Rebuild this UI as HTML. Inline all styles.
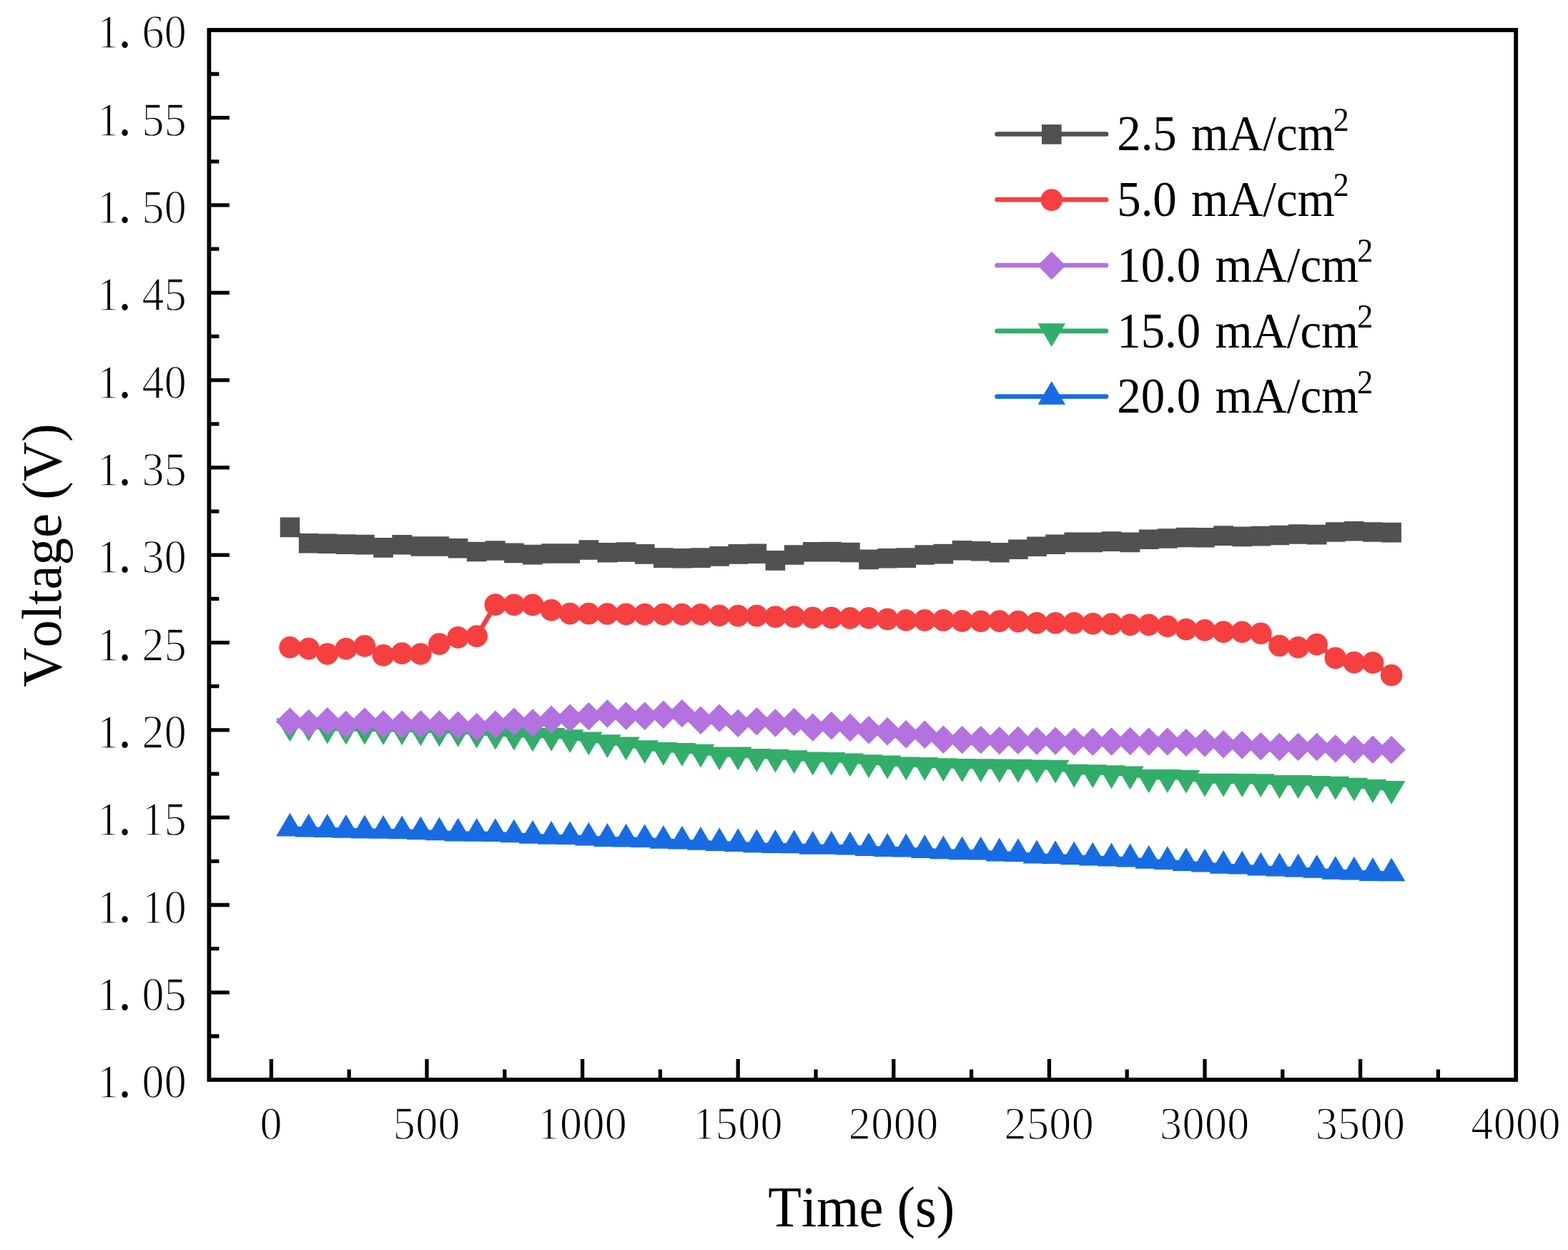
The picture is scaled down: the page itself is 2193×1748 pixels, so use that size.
<!DOCTYPE html>
<html lang="en">
<head>
<meta charset="utf-8">
<title>Voltage vs Time at different current densities</title>
<style>
html,body{margin:0;padding:0;background:#fff;}
body{width:2193px;height:1748px;overflow:hidden;}
svg{display:block;}
text{font-family:"Liberation Serif","Noto Serif CJK SC",serif;fill:#000;font-kerning:none;}
.tick text{text-anchor:middle;}
.tick .dot{font-size:72px;stroke:none;}
</style>
</head>
<body>
<svg width="2193" height="1748" viewBox="0 0 2193 1748">
<rect x="0" y="0" width="2193" height="1748" fill="#fff"/>
<g class="series s-blue">
<polyline points="405.5,1158.8 431.7,1159.7 457.8,1160.1 483.9,1161 510,1161.6 536.1,1162 562.2,1162.5 588.3,1163.4 614.4,1164.4 640.6,1165.7 666.7,1165.9 692.8,1166.2 718.9,1167.5 745,1169 771.1,1170 797.2,1170.3 823.3,1171.8 849.4,1173.1 875.6,1173.7 901.7,1174.2 927.8,1175.9 953.9,1176.8 980,1178 1006.1,1179.3 1032.2,1180.2 1058.3,1181.5 1084.4,1182.1 1110.6,1182.4 1136.7,1183.9 1162.8,1183.9 1188.9,1184.8 1215,1186.2 1241.1,1187.1 1267.2,1187.6 1293.3,1189.1 1319.4,1190.4 1345.6,1191.4 1371.7,1191.7 1397.8,1193.6 1423.9,1194.2 1450,1196.6 1476.1,1197.3 1502.2,1198.4 1528.3,1199.7 1554.5,1200.6 1580.6,1201.6 1606.7,1204 1632.8,1205.3 1658.9,1207.2 1685,1208.7 1711.1,1210.9 1737.2,1211.8 1763.3,1213.7 1789.5,1214.6 1815.6,1215.6 1841.7,1217 1867.8,1218.9 1893.9,1219.7 1920,1221.1 1946.1,1221.5" fill="none" stroke="#186CE3" stroke-width="6.7" stroke-linejoin="round" stroke-linecap="round"/>
<path d="M405.5 1136.8l19.3 32.8h-38.6zM431.7 1137.7l19.3 32.8h-38.6zM457.8 1138.1l19.3 32.8h-38.6zM483.9 1139l19.3 32.8h-38.6zM510 1139.6l19.3 32.8h-38.6zM536.1 1140l19.3 32.8h-38.6zM562.2 1140.5l19.3 32.8h-38.6zM588.3 1141.4l19.3 32.8h-38.6zM614.4 1142.4l19.3 32.8h-38.6zM640.6 1143.7l19.3 32.8h-38.6zM666.7 1143.9l19.3 32.8h-38.6zM692.8 1144.2l19.3 32.8h-38.6zM718.9 1145.5l19.3 32.8h-38.6zM745 1147l19.3 32.8h-38.6zM771.1 1148l19.3 32.8h-38.6zM797.2 1148.3l19.3 32.8h-38.6zM823.3 1149.8l19.3 32.8h-38.6zM849.4 1151.1l19.3 32.8h-38.6zM875.6 1151.7l19.3 32.8h-38.6zM901.7 1152.2l19.3 32.8h-38.6zM927.8 1153.9l19.3 32.8h-38.6zM953.9 1154.8l19.3 32.8h-38.6zM980 1156l19.3 32.8h-38.6zM1006.1 1157.3l19.3 32.8h-38.6zM1032.2 1158.2l19.3 32.8h-38.6zM1058.3 1159.5l19.3 32.8h-38.6zM1084.4 1160.1l19.3 32.8h-38.6zM1110.6 1160.4l19.3 32.8h-38.6zM1136.7 1161.9l19.3 32.8h-38.6zM1162.8 1161.9l19.3 32.8h-38.6zM1188.9 1162.8l19.3 32.8h-38.6zM1215 1164.2l19.3 32.8h-38.6zM1241.1 1165.1l19.3 32.8h-38.6zM1267.2 1165.6l19.3 32.8h-38.6zM1293.3 1167.1l19.3 32.8h-38.6zM1319.4 1168.4l19.3 32.8h-38.6zM1345.6 1169.4l19.3 32.8h-38.6zM1371.7 1169.7l19.3 32.8h-38.6zM1397.8 1171.6l19.3 32.8h-38.6zM1423.9 1172.2l19.3 32.8h-38.6zM1450 1174.6l19.3 32.8h-38.6zM1476.1 1175.3l19.3 32.8h-38.6zM1502.2 1176.4l19.3 32.8h-38.6zM1528.3 1177.7l19.3 32.8h-38.6zM1554.5 1178.6l19.3 32.8h-38.6zM1580.6 1179.6l19.3 32.8h-38.6zM1606.7 1182l19.3 32.8h-38.6zM1632.8 1183.3l19.3 32.8h-38.6zM1658.9 1185.2l19.3 32.8h-38.6zM1685 1186.7l19.3 32.8h-38.6zM1711.1 1188.9l19.3 32.8h-38.6zM1737.2 1189.8l19.3 32.8h-38.6zM1763.3 1191.7l19.3 32.8h-38.6zM1789.5 1192.6l19.3 32.8h-38.6zM1815.6 1193.6l19.3 32.8h-38.6zM1841.7 1195l19.3 32.8h-38.6zM1867.8 1196.9l19.3 32.8h-38.6zM1893.9 1197.7l19.3 32.8h-38.6zM1920 1199.1l19.3 32.8h-38.6zM1946.1 1199.5l19.3 32.8h-38.6z" fill="#186CE3"/>
</g>
<g class="series s-green">
<polyline points="405.5,1015.3 431.7,1014.7 457.8,1018.4 483.9,1019.4 510,1019.4 536.1,1019.9 562.2,1020.3 588.3,1021.2 614.4,1022.2 640.6,1022.7 666.7,1024.6 692.8,1026.4 718.9,1027.4 745,1029.2 771.1,1028.7 797.2,1031.1 823.3,1034.3 849.4,1038 875.6,1041.3 901.7,1046 927.8,1048.8 953.9,1049.7 980,1051.6 1006.1,1055.3 1032.2,1055.3 1058.3,1057.7 1084.4,1058.5 1110.6,1060 1136.7,1062.4 1162.8,1062.7 1188.9,1064.2 1215,1066.1 1241.1,1067.4 1267.2,1069.3 1293.3,1069.8 1319.4,1071.1 1345.6,1071.7 1371.7,1072.1 1397.8,1072.4 1423.9,1072.6 1450,1073.4 1476.1,1073.5 1502.2,1079.5 1528.3,1080.1 1554.5,1081 1580.6,1082.3 1606.7,1086.9 1632.8,1086.9 1658.9,1087.5 1685,1092.5 1711.1,1092.5 1737.2,1092.9 1763.3,1093.1 1789.5,1094.9 1815.6,1094.9 1841.7,1095.9 1867.8,1096.6 1893.9,1098.5 1920,1100.9 1946.1,1102.8" fill="none" stroke="#31AE6A" stroke-width="6.7" stroke-linejoin="round" stroke-linecap="round"/>
<path d="M405.5 1037.3l19.3 -32.8h-38.6zM431.7 1036.7l19.3 -32.8h-38.6zM457.8 1040.4l19.3 -32.8h-38.6zM483.9 1041.4l19.3 -32.8h-38.6zM510 1041.4l19.3 -32.8h-38.6zM536.1 1041.9l19.3 -32.8h-38.6zM562.2 1042.3l19.3 -32.8h-38.6zM588.3 1043.2l19.3 -32.8h-38.6zM614.4 1044.2l19.3 -32.8h-38.6zM640.6 1044.7l19.3 -32.8h-38.6zM666.7 1046.6l19.3 -32.8h-38.6zM692.8 1048.4l19.3 -32.8h-38.6zM718.9 1049.4l19.3 -32.8h-38.6zM745 1051.2l19.3 -32.8h-38.6zM771.1 1050.7l19.3 -32.8h-38.6zM797.2 1053.1l19.3 -32.8h-38.6zM823.3 1056.3l19.3 -32.8h-38.6zM849.4 1060l19.3 -32.8h-38.6zM875.6 1063.3l19.3 -32.8h-38.6zM901.7 1068l19.3 -32.8h-38.6zM927.8 1070.8l19.3 -32.8h-38.6zM953.9 1071.7l19.3 -32.8h-38.6zM980 1073.6l19.3 -32.8h-38.6zM1006.1 1077.3l19.3 -32.8h-38.6zM1032.2 1077.3l19.3 -32.8h-38.6zM1058.3 1079.7l19.3 -32.8h-38.6zM1084.4 1080.5l19.3 -32.8h-38.6zM1110.6 1082l19.3 -32.8h-38.6zM1136.7 1084.4l19.3 -32.8h-38.6zM1162.8 1084.7l19.3 -32.8h-38.6zM1188.9 1086.2l19.3 -32.8h-38.6zM1215 1088.1l19.3 -32.8h-38.6zM1241.1 1089.4l19.3 -32.8h-38.6zM1267.2 1091.3l19.3 -32.8h-38.6zM1293.3 1091.8l19.3 -32.8h-38.6zM1319.4 1093.1l19.3 -32.8h-38.6zM1345.6 1093.7l19.3 -32.8h-38.6zM1371.7 1094.1l19.3 -32.8h-38.6zM1397.8 1094.4l19.3 -32.8h-38.6zM1423.9 1094.6l19.3 -32.8h-38.6zM1450 1095.4l19.3 -32.8h-38.6zM1476.1 1095.5l19.3 -32.8h-38.6zM1502.2 1101.5l19.3 -32.8h-38.6zM1528.3 1102.1l19.3 -32.8h-38.6zM1554.5 1103l19.3 -32.8h-38.6zM1580.6 1104.3l19.3 -32.8h-38.6zM1606.7 1108.9l19.3 -32.8h-38.6zM1632.8 1108.9l19.3 -32.8h-38.6zM1658.9 1109.5l19.3 -32.8h-38.6zM1685 1114.5l19.3 -32.8h-38.6zM1711.1 1114.5l19.3 -32.8h-38.6zM1737.2 1114.9l19.3 -32.8h-38.6zM1763.3 1115.1l19.3 -32.8h-38.6zM1789.5 1116.9l19.3 -32.8h-38.6zM1815.6 1116.9l19.3 -32.8h-38.6zM1841.7 1117.9l19.3 -32.8h-38.6zM1867.8 1118.6l19.3 -32.8h-38.6zM1893.9 1120.5l19.3 -32.8h-38.6zM1920 1122.9l19.3 -32.8h-38.6zM1946.1 1124.8l19.3 -32.8h-38.6z" fill="#31AE6A"/>
</g>
<g class="series s-purple">
<polyline points="405.5,1009.1 431.7,1011.6 457.8,1008.8 483.9,1013.4 510,1009.1 536.1,1012.9 562.2,1013.2 588.3,1012.9 614.4,1012.9 640.6,1014.2 666.7,1016.6 692.8,1013.2 718.9,1009.1 745,1011 771.1,1006.3 797.2,1004.1 823.3,1001.7 849.4,998 875.6,1001.3 901.7,1001.3 927.8,999.3 953.9,997.6 980,1007.3 1006.1,1004.1 1032.2,1011.4 1058.3,1008.8 1084.4,1011 1110.6,1009.5 1136.7,1017.1 1162.8,1014.7 1188.9,1017.5 1215,1020.7 1241.1,1022.7 1267.2,1026.8 1293.3,1027.2 1319.4,1034.3 1345.6,1034.6 1371.7,1034.6 1397.8,1035.6 1423.9,1035.2 1450,1036.1 1476.1,1036.1 1502.2,1037.1 1528.3,1037.4 1554.5,1037 1580.6,1036.5 1606.7,1037.1 1632.8,1037.1 1658.9,1038.4 1685,1038.9 1711.1,1040.8 1737.2,1041.7 1763.3,1043.6 1789.5,1044.5 1815.6,1044.5 1841.7,1044.5 1867.8,1046.9 1893.9,1047.7 1920,1048.2 1946.1,1048.6" fill="none" stroke="#B372E0" stroke-width="6.7" stroke-linejoin="round" stroke-linecap="round"/>
<path d="M405.5 989.4l19.7 19.7l-19.7 19.7l-19.7 -19.7zM431.7 991.9l19.7 19.7l-19.7 19.7l-19.7 -19.7zM457.8 989.1l19.7 19.7l-19.7 19.7l-19.7 -19.7zM483.9 993.7l19.7 19.7l-19.7 19.7l-19.7 -19.7zM510 989.4l19.7 19.7l-19.7 19.7l-19.7 -19.7zM536.1 993.2l19.7 19.7l-19.7 19.7l-19.7 -19.7zM562.2 993.5l19.7 19.7l-19.7 19.7l-19.7 -19.7zM588.3 993.2l19.7 19.7l-19.7 19.7l-19.7 -19.7zM614.4 993.2l19.7 19.7l-19.7 19.7l-19.7 -19.7zM640.6 994.5l19.7 19.7l-19.7 19.7l-19.7 -19.7zM666.7 996.9l19.7 19.7l-19.7 19.7l-19.7 -19.7zM692.8 993.5l19.7 19.7l-19.7 19.7l-19.7 -19.7zM718.9 989.4l19.7 19.7l-19.7 19.7l-19.7 -19.7zM745 991.3l19.7 19.7l-19.7 19.7l-19.7 -19.7zM771.1 986.6l19.7 19.7l-19.7 19.7l-19.7 -19.7zM797.2 984.4l19.7 19.7l-19.7 19.7l-19.7 -19.7zM823.3 982l19.7 19.7l-19.7 19.7l-19.7 -19.7zM849.4 978.3l19.7 19.7l-19.7 19.7l-19.7 -19.7zM875.6 981.6l19.7 19.7l-19.7 19.7l-19.7 -19.7zM901.7 981.6l19.7 19.7l-19.7 19.7l-19.7 -19.7zM927.8 979.6l19.7 19.7l-19.7 19.7l-19.7 -19.7zM953.9 977.9l19.7 19.7l-19.7 19.7l-19.7 -19.7zM980 987.6l19.7 19.7l-19.7 19.7l-19.7 -19.7zM1006.1 984.4l19.7 19.7l-19.7 19.7l-19.7 -19.7zM1032.2 991.7l19.7 19.7l-19.7 19.7l-19.7 -19.7zM1058.3 989.1l19.7 19.7l-19.7 19.7l-19.7 -19.7zM1084.4 991.3l19.7 19.7l-19.7 19.7l-19.7 -19.7zM1110.6 989.8l19.7 19.7l-19.7 19.7l-19.7 -19.7zM1136.7 997.4l19.7 19.7l-19.7 19.7l-19.7 -19.7zM1162.8 995l19.7 19.7l-19.7 19.7l-19.7 -19.7zM1188.9 997.8l19.7 19.7l-19.7 19.7l-19.7 -19.7zM1215 1001l19.7 19.7l-19.7 19.7l-19.7 -19.7zM1241.1 1003l19.7 19.7l-19.7 19.7l-19.7 -19.7zM1267.2 1007.1l19.7 19.7l-19.7 19.7l-19.7 -19.7zM1293.3 1007.5l19.7 19.7l-19.7 19.7l-19.7 -19.7zM1319.4 1014.6l19.7 19.7l-19.7 19.7l-19.7 -19.7zM1345.6 1014.9l19.7 19.7l-19.7 19.7l-19.7 -19.7zM1371.7 1014.9l19.7 19.7l-19.7 19.7l-19.7 -19.7zM1397.8 1015.9l19.7 19.7l-19.7 19.7l-19.7 -19.7zM1423.9 1015.5l19.7 19.7l-19.7 19.7l-19.7 -19.7zM1450 1016.4l19.7 19.7l-19.7 19.7l-19.7 -19.7zM1476.1 1016.4l19.7 19.7l-19.7 19.7l-19.7 -19.7zM1502.2 1017.4l19.7 19.7l-19.7 19.7l-19.7 -19.7zM1528.3 1017.7l19.7 19.7l-19.7 19.7l-19.7 -19.7zM1554.5 1017.3l19.7 19.7l-19.7 19.7l-19.7 -19.7zM1580.6 1016.8l19.7 19.7l-19.7 19.7l-19.7 -19.7zM1606.7 1017.4l19.7 19.7l-19.7 19.7l-19.7 -19.7zM1632.8 1017.4l19.7 19.7l-19.7 19.7l-19.7 -19.7zM1658.9 1018.7l19.7 19.7l-19.7 19.7l-19.7 -19.7zM1685 1019.2l19.7 19.7l-19.7 19.7l-19.7 -19.7zM1711.1 1021.1l19.7 19.7l-19.7 19.7l-19.7 -19.7zM1737.2 1022l19.7 19.7l-19.7 19.7l-19.7 -19.7zM1763.3 1023.9l19.7 19.7l-19.7 19.7l-19.7 -19.7zM1789.5 1024.8l19.7 19.7l-19.7 19.7l-19.7 -19.7zM1815.6 1024.8l19.7 19.7l-19.7 19.7l-19.7 -19.7zM1841.7 1024.8l19.7 19.7l-19.7 19.7l-19.7 -19.7zM1867.8 1027.2l19.7 19.7l-19.7 19.7l-19.7 -19.7zM1893.9 1028l19.7 19.7l-19.7 19.7l-19.7 -19.7zM1920 1028.5l19.7 19.7l-19.7 19.7l-19.7 -19.7zM1946.1 1028.9l19.7 19.7l-19.7 19.7l-19.7 -19.7z" fill="#B372E0"/>
</g>
<g class="series s-red">
<polyline points="405.5,905.2 431.7,907.1 457.8,914.5 483.9,907.3 510,903.4 536.1,916.4 562.2,913.6 588.3,914.5 614.4,900.6 640.6,891.4 666.7,889.6 692.8,845.7 718.9,845.7 745,845.8 771.1,853.1 797.2,858.1 823.3,858.1 849.4,858.5 875.6,858.9 901.7,859.1 927.8,859.1 953.9,859.1 980,859.2 1006.1,860.7 1032.2,861.1 1058.3,861.1 1084.4,862.6 1110.6,862.6 1136.7,863.7 1162.8,863.9 1188.9,864.3 1215,864.3 1241.1,865.9 1267.2,867.2 1293.3,867.4 1319.4,867.4 1345.6,868.4 1371.7,868.7 1397.8,868.7 1423.9,869.1 1450,871.2 1476.1,871.2 1502.2,871.2 1528.3,872.1 1554.5,872.6 1580.6,873.6 1606.7,873.8 1632.8,875.8 1658.9,880.1 1685,881.2 1711.1,883.6 1737.2,883.8 1763.3,885.7 1789.5,903 1815.6,905.2 1841.7,901.1 1867.8,920.3 1893.9,926.4 1920,926.6 1946.1,944.3" fill="none" stroke="#F64040" stroke-width="6.7" stroke-linejoin="round" stroke-linecap="round"/>
<path d="M390.2 905.2a15.3 15.3 0 1 0 30.6 0a15.3 15.3 0 1 0 -30.6 0zM416.4 907.1a15.3 15.3 0 1 0 30.6 0a15.3 15.3 0 1 0 -30.6 0zM442.5 914.5a15.3 15.3 0 1 0 30.6 0a15.3 15.3 0 1 0 -30.6 0zM468.6 907.3a15.3 15.3 0 1 0 30.6 0a15.3 15.3 0 1 0 -30.6 0zM494.7 903.4a15.3 15.3 0 1 0 30.6 0a15.3 15.3 0 1 0 -30.6 0zM520.8 916.4a15.3 15.3 0 1 0 30.6 0a15.3 15.3 0 1 0 -30.6 0zM546.9 913.6a15.3 15.3 0 1 0 30.6 0a15.3 15.3 0 1 0 -30.6 0zM573 914.5a15.3 15.3 0 1 0 30.6 0a15.3 15.3 0 1 0 -30.6 0zM599.1 900.6a15.3 15.3 0 1 0 30.6 0a15.3 15.3 0 1 0 -30.6 0zM625.3 891.4a15.3 15.3 0 1 0 30.6 0a15.3 15.3 0 1 0 -30.6 0zM651.4 889.6a15.3 15.3 0 1 0 30.6 0a15.3 15.3 0 1 0 -30.6 0zM677.5 845.7a15.3 15.3 0 1 0 30.6 0a15.3 15.3 0 1 0 -30.6 0zM703.6 845.7a15.3 15.3 0 1 0 30.6 0a15.3 15.3 0 1 0 -30.6 0zM729.7 845.8a15.3 15.3 0 1 0 30.6 0a15.3 15.3 0 1 0 -30.6 0zM755.8 853.1a15.3 15.3 0 1 0 30.6 0a15.3 15.3 0 1 0 -30.6 0zM781.9 858.1a15.3 15.3 0 1 0 30.6 0a15.3 15.3 0 1 0 -30.6 0zM808 858.1a15.3 15.3 0 1 0 30.6 0a15.3 15.3 0 1 0 -30.6 0zM834.1 858.5a15.3 15.3 0 1 0 30.6 0a15.3 15.3 0 1 0 -30.6 0zM860.3 858.9a15.3 15.3 0 1 0 30.6 0a15.3 15.3 0 1 0 -30.6 0zM886.4 859.1a15.3 15.3 0 1 0 30.6 0a15.3 15.3 0 1 0 -30.6 0zM912.5 859.1a15.3 15.3 0 1 0 30.6 0a15.3 15.3 0 1 0 -30.6 0zM938.6 859.1a15.3 15.3 0 1 0 30.6 0a15.3 15.3 0 1 0 -30.6 0zM964.7 859.2a15.3 15.3 0 1 0 30.6 0a15.3 15.3 0 1 0 -30.6 0zM990.8 860.7a15.3 15.3 0 1 0 30.6 0a15.3 15.3 0 1 0 -30.6 0zM1016.9 861.1a15.3 15.3 0 1 0 30.6 0a15.3 15.3 0 1 0 -30.6 0zM1043 861.1a15.3 15.3 0 1 0 30.6 0a15.3 15.3 0 1 0 -30.6 0zM1069.1 862.6a15.3 15.3 0 1 0 30.6 0a15.3 15.3 0 1 0 -30.6 0zM1095.3 862.6a15.3 15.3 0 1 0 30.6 0a15.3 15.3 0 1 0 -30.6 0zM1121.4 863.7a15.3 15.3 0 1 0 30.6 0a15.3 15.3 0 1 0 -30.6 0zM1147.5 863.9a15.3 15.3 0 1 0 30.6 0a15.3 15.3 0 1 0 -30.6 0zM1173.6 864.3a15.3 15.3 0 1 0 30.6 0a15.3 15.3 0 1 0 -30.6 0zM1199.7 864.3a15.3 15.3 0 1 0 30.6 0a15.3 15.3 0 1 0 -30.6 0zM1225.8 865.9a15.3 15.3 0 1 0 30.6 0a15.3 15.3 0 1 0 -30.6 0zM1251.9 867.2a15.3 15.3 0 1 0 30.6 0a15.3 15.3 0 1 0 -30.6 0zM1278 867.4a15.3 15.3 0 1 0 30.6 0a15.3 15.3 0 1 0 -30.6 0zM1304.1 867.4a15.3 15.3 0 1 0 30.6 0a15.3 15.3 0 1 0 -30.6 0zM1330.3 868.4a15.3 15.3 0 1 0 30.6 0a15.3 15.3 0 1 0 -30.6 0zM1356.4 868.7a15.3 15.3 0 1 0 30.6 0a15.3 15.3 0 1 0 -30.6 0zM1382.5 868.7a15.3 15.3 0 1 0 30.6 0a15.3 15.3 0 1 0 -30.6 0zM1408.6 869.1a15.3 15.3 0 1 0 30.6 0a15.3 15.3 0 1 0 -30.6 0zM1434.7 871.2a15.3 15.3 0 1 0 30.6 0a15.3 15.3 0 1 0 -30.6 0zM1460.8 871.2a15.3 15.3 0 1 0 30.6 0a15.3 15.3 0 1 0 -30.6 0zM1486.9 871.2a15.3 15.3 0 1 0 30.6 0a15.3 15.3 0 1 0 -30.6 0zM1513 872.1a15.3 15.3 0 1 0 30.6 0a15.3 15.3 0 1 0 -30.6 0zM1539.2 872.6a15.3 15.3 0 1 0 30.6 0a15.3 15.3 0 1 0 -30.6 0zM1565.3 873.6a15.3 15.3 0 1 0 30.6 0a15.3 15.3 0 1 0 -30.6 0zM1591.4 873.8a15.3 15.3 0 1 0 30.6 0a15.3 15.3 0 1 0 -30.6 0zM1617.5 875.8a15.3 15.3 0 1 0 30.6 0a15.3 15.3 0 1 0 -30.6 0zM1643.6 880.1a15.3 15.3 0 1 0 30.6 0a15.3 15.3 0 1 0 -30.6 0zM1669.7 881.2a15.3 15.3 0 1 0 30.6 0a15.3 15.3 0 1 0 -30.6 0zM1695.8 883.6a15.3 15.3 0 1 0 30.6 0a15.3 15.3 0 1 0 -30.6 0zM1721.9 883.8a15.3 15.3 0 1 0 30.6 0a15.3 15.3 0 1 0 -30.6 0zM1748 885.7a15.3 15.3 0 1 0 30.6 0a15.3 15.3 0 1 0 -30.6 0zM1774.2 903a15.3 15.3 0 1 0 30.6 0a15.3 15.3 0 1 0 -30.6 0zM1800.3 905.2a15.3 15.3 0 1 0 30.6 0a15.3 15.3 0 1 0 -30.6 0zM1826.4 901.1a15.3 15.3 0 1 0 30.6 0a15.3 15.3 0 1 0 -30.6 0zM1852.5 920.3a15.3 15.3 0 1 0 30.6 0a15.3 15.3 0 1 0 -30.6 0zM1878.6 926.4a15.3 15.3 0 1 0 30.6 0a15.3 15.3 0 1 0 -30.6 0zM1904.7 926.6a15.3 15.3 0 1 0 30.6 0a15.3 15.3 0 1 0 -30.6 0zM1930.8 944.3a15.3 15.3 0 1 0 30.6 0a15.3 15.3 0 1 0 -30.6 0z" fill="#F64040"/>
</g>
<g class="series s-gray">
<polyline points="405.5,737.4 431.7,759.8 457.8,760.2 483.9,761.1 510,761.6 536.1,765.9 562.2,761.7 588.3,764 614.4,764 640.6,766.7 666.7,771.5 692.8,770 718.9,773.4 745,775.6 771.1,774 797.2,774 823.3,769 849.4,772.7 875.6,772 901.7,774.9 927.8,780.1 953.9,780.7 980,780.1 1006.1,777.9 1032.2,774.9 1058.3,774.2 1084.4,783.9 1110.6,776 1136.7,771.8 1162.8,771.6 1188.9,772.5 1215,782.4 1241.1,780.7 1267.2,780.1 1293.3,776 1319.4,774.6 1345.6,769.7 1371.7,770.8 1397.8,772.7 1423.9,768.2 1450,764.3 1476.1,761.2 1502.2,758.4 1528.3,758.4 1554.5,757.1 1580.6,758.4 1606.7,754.3 1632.8,753 1658.9,751.5 1685,751.8 1711.1,749.1 1737.2,750.4 1763.3,749.6 1789.5,748.5 1815.6,747 1841.7,747.6 1867.8,744 1893.9,742.7 1920,744 1946.1,744.6" fill="none" stroke="#515151" stroke-width="6.7" stroke-linejoin="round" stroke-linecap="round"/>
<path d="M391.7 723.6h27.6v27.6h-27.6zM417.9 746h27.6v27.6h-27.6zM444 746.4h27.6v27.6h-27.6zM470.1 747.3h27.6v27.6h-27.6zM496.2 747.8h27.6v27.6h-27.6zM522.3 752.1h27.6v27.6h-27.6zM548.4 747.9h27.6v27.6h-27.6zM574.5 750.2h27.6v27.6h-27.6zM600.6 750.2h27.6v27.6h-27.6zM626.8 752.9h27.6v27.6h-27.6zM652.9 757.7h27.6v27.6h-27.6zM679 756.2h27.6v27.6h-27.6zM705.1 759.6h27.6v27.6h-27.6zM731.2 761.8h27.6v27.6h-27.6zM757.3 760.2h27.6v27.6h-27.6zM783.4 760.2h27.6v27.6h-27.6zM809.5 755.2h27.6v27.6h-27.6zM835.6 758.9h27.6v27.6h-27.6zM861.8 758.2h27.6v27.6h-27.6zM887.9 761.1h27.6v27.6h-27.6zM914 766.3h27.6v27.6h-27.6zM940.1 766.9h27.6v27.6h-27.6zM966.2 766.3h27.6v27.6h-27.6zM992.3 764.1h27.6v27.6h-27.6zM1018.4 761.1h27.6v27.6h-27.6zM1044.5 760.4h27.6v27.6h-27.6zM1070.6 770.1h27.6v27.6h-27.6zM1096.8 762.2h27.6v27.6h-27.6zM1122.9 758h27.6v27.6h-27.6zM1149 757.8h27.6v27.6h-27.6zM1175.1 758.7h27.6v27.6h-27.6zM1201.2 768.6h27.6v27.6h-27.6zM1227.3 766.9h27.6v27.6h-27.6zM1253.4 766.3h27.6v27.6h-27.6zM1279.5 762.2h27.6v27.6h-27.6zM1305.6 760.8h27.6v27.6h-27.6zM1331.8 755.9h27.6v27.6h-27.6zM1357.9 757h27.6v27.6h-27.6zM1384 758.9h27.6v27.6h-27.6zM1410.1 754.4h27.6v27.6h-27.6zM1436.2 750.5h27.6v27.6h-27.6zM1462.3 747.4h27.6v27.6h-27.6zM1488.4 744.6h27.6v27.6h-27.6zM1514.5 744.6h27.6v27.6h-27.6zM1540.7 743.3h27.6v27.6h-27.6zM1566.8 744.6h27.6v27.6h-27.6zM1592.9 740.5h27.6v27.6h-27.6zM1619 739.2h27.6v27.6h-27.6zM1645.1 737.7h27.6v27.6h-27.6zM1671.2 738h27.6v27.6h-27.6zM1697.3 735.3h27.6v27.6h-27.6zM1723.4 736.6h27.6v27.6h-27.6zM1749.5 735.8h27.6v27.6h-27.6zM1775.7 734.7h27.6v27.6h-27.6zM1801.8 733.2h27.6v27.6h-27.6zM1827.9 733.8h27.6v27.6h-27.6zM1854 730.2h27.6v27.6h-27.6zM1880.1 728.9h27.6v27.6h-27.6zM1906.2 730.2h27.6v27.6h-27.6zM1932.3 730.8h27.6v27.6h-27.6z" fill="#515151"/>
</g>
<path class="ticks" d="M292.4 1449h14M292.4 1387.9h28.5M292.4 1326.7h14M292.4 1265.5h28.5M292.4 1204.4h14M292.4 1143.2h28.5M292.4 1082.1h14M292.4 1020.9h28.5M292.4 959.7h14M292.4 898.6h28.5M292.4 837.4h14M292.4 776.2h28.5M292.4 715.1h14M292.4 653.9h28.5M292.4 592.8h14M292.4 531.6h28.5M292.4 470.4h14M292.4 409.3h28.5M292.4 348.1h14M292.4 286.9h28.5M292.4 225.8h14M292.4 164.6h28.5M292.4 103.5h14M379.4 1509.9v-28.9M488.2 1509.9v-14.4M597 1509.9v-28.9M705.8 1509.9v-14.4M814.6 1509.9v-28.9M923.4 1509.9v-14.4M1032.2 1509.9v-28.9M1141 1509.9v-14.4M1249.8 1509.9v-28.9M1358.6 1509.9v-14.4M1467.4 1509.9v-28.9M1576.2 1509.9v-14.4M1685 1509.9v-28.9M1793.8 1509.9v-14.4M1902.6 1509.9v-28.9M2011.4 1509.9v-14.4" fill="none" stroke="#000" stroke-width="5.3"/>
<rect class="frame" x="292.4" y="42" width="1827.8" height="1467.9" fill="none" stroke="#000" stroke-width="5.8"/>
<g class="tick ylabels" font-size="63" stroke="#fff" stroke-width="1.3">
<text transform="scale(0.985 1.065)" x="153.5 177.3 217.3 249.1" y="1441.5 1440.6 1441.5 1441.5">1<tspan class="dot">.</tspan>00</text>
<text transform="scale(0.985 1.065)" x="153.5 177.3 217.3 249.1" y="1326.6 1325.7 1326.6 1326.6">1<tspan class="dot">.</tspan>05</text>
<text transform="scale(0.985 1.065)" x="153.5 177.3 217.3 249.1" y="1211.8 1210.8 1211.8 1211.8">1<tspan class="dot">.</tspan>10</text>
<text transform="scale(0.985 1.065)" x="153.5 177.3 217.3 249.1" y="1096.9 1096 1096.9 1096.9">1<tspan class="dot">.</tspan>15</text>
<text transform="scale(0.985 1.065)" x="153.5 177.3 217.3 249.1" y="982.1 981.1 982.1 982.1">1<tspan class="dot">.</tspan>20</text>
<text transform="scale(0.985 1.065)" x="153.5 177.3 217.3 249.1" y="867.2 866.3 867.2 867.2">1<tspan class="dot">.</tspan>25</text>
<text transform="scale(0.985 1.065)" x="153.5 177.3 217.3 249.1" y="752.3 751.4 752.3 752.3">1<tspan class="dot">.</tspan>30</text>
<text transform="scale(0.985 1.065)" x="153.5 177.3 217.3 249.1" y="637.5 636.5 637.5 637.5">1<tspan class="dot">.</tspan>35</text>
<text transform="scale(0.985 1.065)" x="153.5 177.3 217.3 249.1" y="522.6 521.7 522.6 522.6">1<tspan class="dot">.</tspan>40</text>
<text transform="scale(0.985 1.065)" x="153.5 177.3 217.3 249.1" y="407.8 406.8 407.8 407.8">1<tspan class="dot">.</tspan>45</text>
<text transform="scale(0.985 1.065)" x="153.5 177.3 217.3 249.1" y="292.9 292 292.9 292.9">1<tspan class="dot">.</tspan>50</text>
<text transform="scale(0.985 1.065)" x="153.5 177.3 217.3 249.1" y="178.1 177.1 178.1 178.1">1<tspan class="dot">.</tspan>55</text>
<text transform="scale(0.985 1.065)" x="153.5 177.3 217.3 249.1" y="63.2 62.3 63.2 63.2">1<tspan class="dot">.</tspan>60</text>
</g>
<g class="tick xlabels" font-size="63" stroke="#fff" stroke-width="1.3">
<text transform="scale(0.985 1.03)" x="384.9" y="1546.2">0</text>
<text transform="scale(0.985 1.03)" x="573.9 605.8 637.7" y="1546.2">500</text>
<text transform="scale(0.985 1.03)" x="778.9 810.8 842.7 874.5" y="1546.2">1000</text>
<text transform="scale(0.985 1.03)" x="999.8 1031.7 1063.6 1095.5" y="1546.2">1500</text>
<text transform="scale(0.985 1.03)" x="1220.7 1252.6 1284.5 1316.4" y="1546.2">2000</text>
<text transform="scale(0.985 1.03)" x="1441.6 1473.5 1505.4 1537.3" y="1546.2">2500</text>
<text transform="scale(0.985 1.03)" x="1662.5 1694.4 1726.3 1758.2" y="1546.2">3000</text>
<text transform="scale(0.985 1.03)" x="1883.5 1915.3 1947.2 1979.1" y="1546.2">3500</text>
<text transform="scale(0.985 1.03)" x="2104.4 2136.2 2168.1 2200" y="1546.2">4000</text>
</g>
<text class="xtitle" transform="translate(1204.7 1715.4) scale(1 1.06)" text-anchor="middle" font-size="76.4">Time (s)</text>
<text class="ytitle" transform="translate(85.1 776.6) rotate(-90) scale(1 1.01)" text-anchor="middle" font-size="76.7">Voltage (V)</text>
<g class="legend">
<path d="M1394.6 187.5H1547" fill="none" stroke="#515151" stroke-width="6.7" stroke-linecap="round"/><path d="M1457 174.1h27.6v27.6h-27.6z" fill="#515151"/>
<text transform="translate(1562.2 210.4) scale(1 1.05)" font-size="66.9" word-spacing="3.5">2.5 mA/cm<tspan font-size="44.5" dx="-2.2" dy="-26.4">2</tspan></text>
<path d="M1394.6 279.2H1547" fill="none" stroke="#F64040" stroke-width="6.7" stroke-linecap="round"/><path d="M1455.5 279.6a15.3 15.3 0 1 0 30.6 0a15.3 15.3 0 1 0 -30.6 0z" fill="#F64040"/>
<text transform="translate(1562.2 302.1) scale(1 1.05)" font-size="66.9" word-spacing="3.5">5.0 mA/cm<tspan font-size="44.5" dx="-2.2" dy="-26.4">2</tspan></text>
<path d="M1394.6 371H1547" fill="none" stroke="#B372E0" stroke-width="6.7" stroke-linecap="round"/><path d="M1470.8 351.7l19.7 19.7l-19.7 19.7l-19.7 -19.7z" fill="#B372E0"/>
<text transform="translate(1562.2 393.9) scale(1 1.05)" font-size="66.9" word-spacing="3.5">10.0 mA/cm<tspan font-size="44.5" dx="-2.2" dy="-26.4">2</tspan></text>
<path d="M1394.6 462.8H1547" fill="none" stroke="#31AE6A" stroke-width="6.7" stroke-linecap="round"/><path d="M1470.8 485.1l19.3 -32.8h-38.6z" fill="#31AE6A"/>
<text transform="translate(1562.2 485.6) scale(1 1.05)" font-size="66.9" word-spacing="3.5">15.0 mA/cm<tspan font-size="44.5" dx="-2.2" dy="-26.4">2</tspan></text>
<path d="M1394.6 554.5H1547" fill="none" stroke="#186CE3" stroke-width="6.7" stroke-linecap="round"/><path d="M1470.8 532.9l19.3 32.8h-38.6z" fill="#186CE3"/>
<text transform="translate(1562.2 577.4) scale(1 1.05)" font-size="66.9" word-spacing="3.5">20.0 mA/cm<tspan font-size="44.5" dx="-2.2" dy="-26.4">2</tspan></text>
</g>
</svg>
</body>
</html>
